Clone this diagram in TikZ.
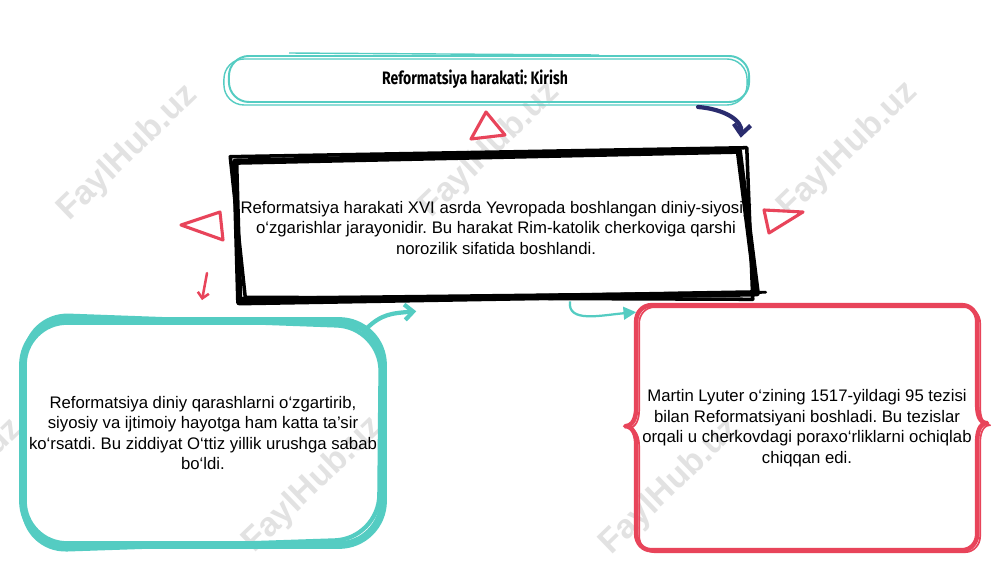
\documentclass[tikz,border=0pt]{standalone}
\usepackage{fontspec}
\setmainfont{Liberation Sans}
\newfontfamily\titlefont[FakeStretch=0.78]{Fira Sans}
\usetikzlibrary{calc,arrows.meta}
\definecolor{sketchteal}{RGB}{84,204,194}
\definecolor{sketchred}{RGB}{232,68,90}
\definecolor{sketchnavy}{RGB}{42,44,110}
\definecolor{markgray}{RGB}{226,226,226}
\frenchspacing
\tikzset{
	bodytext/.style={align=center, inner sep=0pt, font=\fontsize{11.9}{14.6}\selectfont},
	watermark/.style={text=markgray, font=\bfseries\fontsize{24}{24}\selectfont, rotate=44},
	tri/.style={draw=sketchred, fill=white, line width=2.2pt, line join=round},
}

\begin{document}
\begin{tikzpicture}[x=0.025cm,y=-0.025cm]
		\useasboundingbox[fill=white] (0,0) rectangle (1000,563);
		\foreach \wx/\wy in {128/153,490/150,848/150,-47/487,313/485,670/487}
			\node[watermark] at (\wx,\wy) {FaylHub.uz};
		%
		\node[draw=sketchteal, line width=1.4pt, rounded corners=0.5cm, minimum width=13cm, minimum height=1.15cm] (title) at (489,79) {\titlefont\bfseries\fontsize{12.8}{14}\selectfont Reformatsiya harakati: Kirish\kern0.7cm};
		\node[bodytext, minimum width=12.75cm, minimum height=3.65cm] (intro) at (496,228) {Reformatsiya harakati XVI asrda Yevropada boshlangan diniy-siyosiy\\o‘zgarishlar jarayonidir. Bu harakat Rim-katolik cherkoviga qarshi\\norozilik sifatida boshlandi.};
		\node[bodytext, draw=sketchteal, line width=5.5pt, rounded corners=1.1cm, minimum width=9cm, minimum height=5.6cm] (effect) at (203,433) {Reformatsiya diniy qarashlarni o‘zgartirib,\\siyosiy va ijtimoiy hayotga ham katta ta’sir\\ko‘rsatdi. Bu ziddiyat O‘ttiz yillik urushga sabab\\bo‘ldi.};
		\node[bodytext, minimum width=8.525cm, minimum height=6.125cm] (luther) at (807,428) {Martin Lyuter o‘zining 1517-yildagi 95 tezisi\\bilan Reformatsiyani boshladi. Bu tezislar\\orqali u cherkovdagi poraxo‘rliklarni ochiqlab\\chiqqan edi.};
		%
		\draw[sketchteal, line width=1pt, rounded corners=0.5cm] ([shift={(-4,4)}]title.north west) rectangle ([shift={(-3,2)}]title.south east);
		\draw[sketchteal, line width=1pt] ([shift={(-200,-2)}]title.north) -- ([shift={(110,0)}]title.north);
		\draw[line width=4.5pt, line join=round] ([shift={(-5,7)}]intro.north west) -- ([shift={(-13,-4)}]intro.north east) -- ([shift={(5,-8)}]intro.south east) -- ([shift={(-1,1)}]intro.south west) -- cycle;
		\draw[line width=2.5pt, line join=round] ([shift={(-10,2)}]intro.north west) -- ([shift={(-5,-7)}]intro.north east) -- ([shift={(1,-2)}]intro.south east) -- ([shift={(5,-4)}]intro.south west) -- cycle;
		\draw[line width=2pt, line cap=round] ([shift={(-2,-3)}]intro.south west) -- ([shift={(14,-9)}]intro.south east);
		\draw[sketchteal, line width=3pt, rounded corners=1.1cm] ([shift={(6,-3)}]effect.north west) -- ([shift={(-6,10)}]effect.north east) -- ([shift={(-8,-10)}]effect.south east) -- ([shift={(4,2)}]effect.south west) -- cycle;
		\foreach \dx/\dy/\lw in {0/0/3.2pt,3/2/1.2pt}
			\draw[sketchred, line width=\lw, line join=round] ([shift={(15+\dx,\dy)}]luther.north west) -- ++(311,0) to[out=0,in=90] ++(15,16) -- ++(0,84) to[out=-90,in=180] ++(10,18) to[out=180,in=90] ++(-10,18) -- ++(0,93) to[out=-90,in=0] ++(-15,16) -- ++(-311,0) to[out=180,in=-90] ++(-15,-16) -- ++(0,-90) to[out=90,in=0] ++(-11,-18) to[out=0,in=-90] ++(11,-18) -- ++(0,-87) to[out=90,in=180] ++(15,-16) -- cycle;
		%
		\draw[tri] (486,112) -- (471,139) -- (505,135) -- cycle;
		\draw[tri] (181,225) -- (220,212) -- (223,240) -- cycle;
		\draw[tri] (764,210) -- (803,212) -- (769,233) -- cycle;
		%
		\draw[sketchnavy, line width=3pt, line cap=round, -{Straight Barb[length=7pt,width=12pt]}] ([shift={(-52,4)}]title.south east) .. controls +(25,2) and +(2,-18) .. ([shift={(-11,-17)}]intro.north east);
		\draw[sketchteal, line width=3pt, line cap=round, -{Straight Barb[length=6pt,width=11pt]}] ([shift={(-20,11)}]effect.north east) .. controls +(15,-14) and +(-25,2) .. ([shift={(176,10)}]intro.south west);
		\draw[sketchteal, line width=1.6pt, -{Triangle[length=9pt,width=9pt]}] ([shift={(74,0)}]intro.south) .. controls +(-3,22) and +(-35,3) .. ([shift={(0,7)}]luther.north west);
		\draw[sketchred, line width=1.8pt, line cap=round, -{Straight Barb[length=4pt,width=8pt]}] ([shift={(4,-44)}]effect.north) -- ([shift={(-1,-17)}]effect.north);
	\end{tikzpicture}
\end{document}
